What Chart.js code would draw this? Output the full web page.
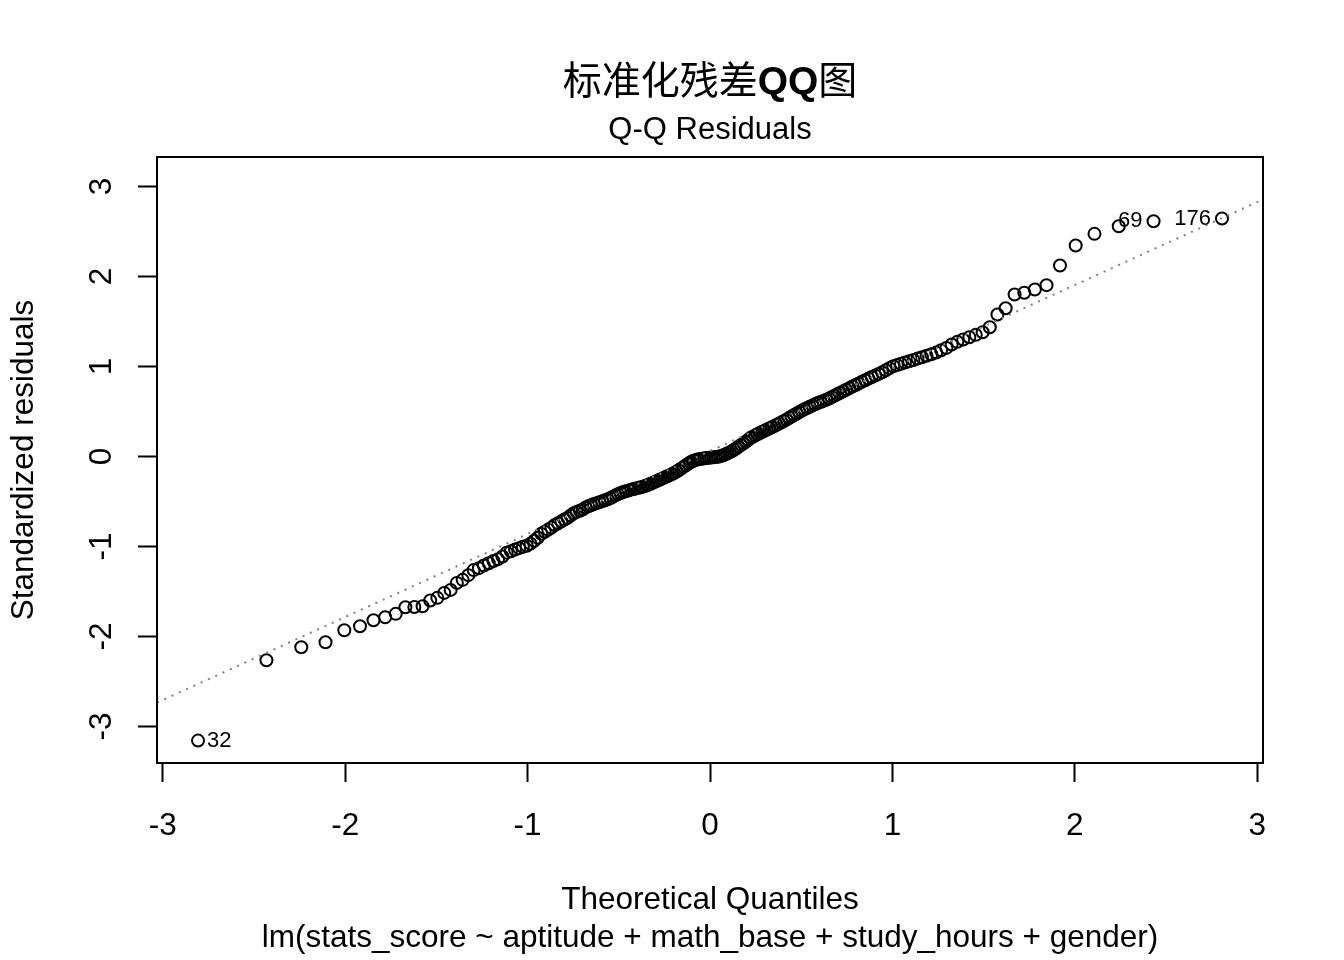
<!DOCTYPE html>
<html>
<head>
<meta charset="utf-8">
<title>标准化残差QQ图</title>
<script src="https://cdn.jsdelivr.net/npm/chart.js@4.4.1/dist/chart.umd.min.js"></script>
<style>
  html, body { margin: 0; padding: 0; background: #ffffff; }
  #qqChart { display: block; }
</style>
</head>
<body>
<canvas id="qqChart" width="1344" height="960"></canvas>
<script>
// Theoretical normal quantiles (x axis), one per observation, n = 200
const theoretical = [
  -2.807, -2.432, -2.241, -2.108, -2.005, -1.919, -1.845, -1.781, -1.723, -1.670,
  -1.621, -1.576, -1.534, -1.495, -1.457, -1.422, -1.388, -1.356, -1.325, -1.296,
  -1.267, -1.240, -1.213, -1.187, -1.162, -1.138, -1.115, -1.092, -1.069, -1.047,
  -1.026, -1.005, -0.984, -0.964, -0.944, -0.925, -0.906, -0.887, -0.869, -0.851,
  -0.833, -0.815, -0.798, -0.781, -0.764, -0.747, -0.731, -0.714, -0.698, -0.682,
  -0.667, -0.653, -0.637, -0.622, -0.606, -0.591, -0.576, -0.561, -0.546, -0.532,
  -0.517, -0.504, -0.490, -0.476, -0.461, -0.447, -0.433, -0.419, -0.406, -0.392,
  -0.379, -0.366, -0.352, -0.339, -0.325, -0.312, -0.299, -0.286, -0.273, -0.260,
  -0.247, -0.234, -0.221, -0.208, -0.196, -0.183, -0.170, -0.157, -0.145, -0.132,
  -0.119, -0.107, -0.094, -0.082, -0.069, -0.056, -0.044, -0.031, -0.019, -0.006,
  0.006, 0.019, 0.031, 0.044, 0.056, 0.069, 0.082, 0.094, 0.107, 0.119,
  0.132, 0.145, 0.157, 0.170, 0.183, 0.196, 0.208, 0.221, 0.234, 0.247,
  0.260, 0.273, 0.286, 0.299, 0.312, 0.325, 0.339, 0.352, 0.366, 0.379,
  0.392, 0.406, 0.419, 0.433, 0.447, 0.461, 0.476, 0.490, 0.504, 0.517,
  0.532, 0.546, 0.561, 0.576, 0.591, 0.606, 0.622, 0.637, 0.653, 0.667,
  0.682, 0.698, 0.714, 0.731, 0.747, 0.764, 0.781, 0.798, 0.815, 0.833,
  0.851, 0.869, 0.887, 0.906, 0.925, 0.944, 0.964, 0.984, 1.005, 1.026,
  1.047, 1.069, 1.092, 1.115, 1.138, 1.162, 1.187, 1.213, 1.240, 1.267,
  1.296, 1.325, 1.356, 1.388, 1.422, 1.457, 1.495, 1.534, 1.576, 1.621,
  1.670, 1.723, 1.781, 1.845, 1.919, 2.005, 2.108, 2.241, 2.432, 2.807
];

// Sorted standardized residuals (y axis)
const residuals = [
  -3.156, -2.263, -2.119, -2.063, -1.930, -1.885, -1.819, -1.785, -1.748, -1.674,
  -1.672, -1.663, -1.600, -1.570, -1.515, -1.482, -1.404, -1.370, -1.318, -1.262,
  -1.240, -1.210, -1.186, -1.160, -1.140, -1.110, -1.068, -1.052, -1.034, -1.018,
  -1.003, -0.992, -0.968, -0.935, -0.902, -0.858, -0.835, -0.812, -0.790, -0.760,
  -0.742, -0.720, -0.700, -0.682, -0.655, -0.630, -0.615, -0.603, -0.588, -0.566,
  -0.553, -0.541, -0.528, -0.518, -0.507, -0.497, -0.485, -0.474, -0.462, -0.447,
  -0.431, -0.418, -0.405, -0.395, -0.385, -0.376, -0.368, -0.360, -0.354, -0.348,
  -0.342, -0.334, -0.324, -0.313, -0.302, -0.290, -0.279, -0.267, -0.255, -0.243,
  -0.231, -0.219, -0.207, -0.195, -0.182, -0.167, -0.150, -0.132, -0.115, -0.098,
  -0.080, -0.064, -0.050, -0.040, -0.034, -0.028, -0.024, -0.020, -0.016, -0.013,
  -0.010, -0.008, -0.005, -0.002, 0.004, 0.012, 0.022, 0.034, 0.046, 0.058,
  0.075, 0.092, 0.110, 0.128, 0.146, 0.165, 0.184, 0.205, 0.220, 0.234,
  0.248, 0.262, 0.275, 0.287, 0.300, 0.312, 0.325, 0.338, 0.352, 0.366,
  0.380, 0.396, 0.410, 0.428, 0.445, 0.462, 0.478, 0.494, 0.510, 0.526,
  0.540, 0.552, 0.566, 0.580, 0.594, 0.606, 0.618, 0.630, 0.645, 0.660,
  0.676, 0.692, 0.708, 0.725, 0.742, 0.760, 0.778, 0.795, 0.812, 0.830,
  0.848, 0.866, 0.884, 0.900, 0.918, 0.936, 0.958, 0.982, 1.003, 1.016,
  1.030, 1.045, 1.058, 1.072, 1.088, 1.103, 1.120, 1.136, 1.155, 1.181,
  1.207, 1.244, 1.274, 1.300, 1.326, 1.352, 1.381, 1.437, 1.578, 1.648,
  1.800, 1.819, 1.856, 1.904, 2.122, 2.344, 2.474, 2.559, 2.614, 2.644
];

// Labelled observations (row names) and their rank in the sorted residuals
const idLabels = ['32', '69', '176'];
const idRanks = [0, 198, 199];
const idSides = ['right', 'left', 'left'];

// qqline through the quartiles
const qqIntercept = 0.061;
const qqSlope = 0.922;

// Axis limits (R adds 4% on each side, y has extra room on top for labels)
const xLimits = [-3.032, 3.032];
const yLimits = [-3.405, 3.328];
const tickValues = [-3, -2, -1, 0, 1, 2, 3];

const latinFont = "'Liberation Sans', Arial, sans-serif";
const cjkFont = "'Noto Sans CJK SC', 'Noto Sans CJK JP', sans-serif";

// Title: Chinese characters normal weight, "QQ" bold (as R rendered it)
const titleParts = [
  { text: '标准化残差', font: '39px ' + cjkFont },
  { text: 'QQ', font: 'bold 39px ' + latinFont },
  { text: '图', font: '39px ' + cjkFont }
];
const subTitle = 'Q-Q Residuals';

const points = theoretical.map((q, i) => ({ x: q, y: residuals[i] }));
const qqLinePoints = xLimits.map(x => ({ x: x, y: qqIntercept + qqSlope * x }));

// Titles, box and point labels are drawn here
const rPlotExtras = {
  id: 'rPlotExtras',
  afterDatasetsDraw(chart) {
    const ctx = chart.ctx;
    const xs = chart.scales.x;
    const ys = chart.scales.y;
    ctx.save();
    ctx.fillStyle = '#000000';
    ctx.font = '22px ' + latinFont;
    ctx.textBaseline = 'middle';
    idLabels.forEach((label, k) => {
      const r = idRanks[k];
      const px = xs.getPixelForValue(theoretical[r]);
      const py = ys.getPixelForValue(residuals[r]);
      if (idSides[k] === 'right') {
        ctx.textAlign = 'left';
        ctx.fillText(label, px + 9, py);
      } else {
        ctx.textAlign = 'right';
        ctx.fillText(label, px - 11, py);
      }
    });
    ctx.restore();
  },
  afterDraw(chart) {
    const ctx = chart.ctx;
    const area = chart.chartArea;
    const cx = (area.left + area.right) / 2;
    ctx.save();
    // box around the plot region
    ctx.strokeStyle = '#000000';
    ctx.lineWidth = 2;
    ctx.strokeRect(area.left, area.top, area.right - area.left, area.bottom - area.top);

    // main title
    let total = 0;
    titleParts.forEach(p => {
      ctx.font = p.font;
      p.width = ctx.measureText(p.text).width;
      total += p.width;
    });
    let x = cx - total / 2;
    ctx.fillStyle = '#000000';
    ctx.textAlign = 'left';
    ctx.textBaseline = 'alphabetic';
    titleParts.forEach(p => {
      ctx.font = p.font;
      ctx.fillText(p.text, x, 94);
      x += p.width;
    });

    // sub title above the box
    ctx.font = '31px ' + latinFont;
    ctx.textAlign = 'center';
    ctx.textBaseline = 'middle';
    ctx.fillText(subTitle, cx, 130);
    ctx.restore();
  }
};

const ctx = document.getElementById('qqChart').getContext('2d');
const qqChart = new Chart(ctx, {
  type: 'scatter',
  data: {
    datasets: [
      {
        type: 'line',
        label: 'qqline',
        data: qqLinePoints,
        borderColor: '#7f7f7f',
        borderWidth: 2,
        borderDash: [2, 6],
        pointRadius: 0,
        fill: false,
        order: 0
      },
      {
        label: 'residuals',
        data: points,
        pointStyle: 'circle',
        pointRadius: 6,
        pointHoverRadius: 6,
        borderColor: '#000000',
        borderWidth: 2,
        backgroundColor: 'rgba(0,0,0,0)',
        order: 1
      }
    ]
  },
  options: {
    responsive: false,
    animation: false,
    devicePixelRatio: 1,
    layout: {
      padding: { top: 157, right: 81, bottom: 0, left: 0 }
    },
    plugins: {
      legend: { display: false },
      tooltip: { enabled: false },
      title: { display: false },
      subtitle: { display: false }
    },
    scales: {
      x: {
        type: 'linear',
        min: xLimits[0],
        max: xLimits[1],
        afterFit(scale) { scale.height = 197; },
        afterBuildTicks(scale) { scale.ticks = tickValues.map(v => ({ value: v })); },
        border: { display: true, color: '#000000', width: 2 },
        grid: {
          drawOnChartArea: false,
          drawTicks: true,
          tickLength: 19,
          tickWidth: 2,
          tickColor: '#000000'
        },
        ticks: {
          color: '#000000',
          padding: 25,
          maxRotation: 0,
          font: { family: latinFont, size: 31.5 }
        },
        title: {
          display: true,
          text: ['Theoretical Quantiles', 'lm(stats_score ~ aptitude + math_base + study_hours + gender)'],
          color: '#000000',
          font: { family: latinFont, size: 31.5, lineHeight: 1.2 },
          padding: { top: 0, bottom: 3 }
        }
      },
      y: {
        type: 'linear',
        min: yLimits[0],
        max: yLimits[1],
        afterFit(scale) { scale.width = 157; },
        afterBuildTicks(scale) { scale.ticks = tickValues.map(v => ({ value: v })); },
        border: { display: true, color: '#000000', width: 2 },
        grid: {
          drawOnChartArea: false,
          drawTicks: true,
          tickLength: 19,
          tickWidth: 2,
          tickColor: '#000000'
        },
        ticks: {
          color: '#000000',
          padding: 22,
          minRotation: 90,
          maxRotation: 90,
          crossAlign: 'center',
          font: { family: latinFont, size: 31.5 }
        },
        title: {
          display: true,
          text: 'Standardized residuals',
          color: '#000000',
          font: { family: latinFont, size: 31.5, lineHeight: 1.2 },
          padding: { top: 5, bottom: 0 }
        }
      }
    }
  },
  plugins: [rPlotExtras]
});
</script>
</body>
</html>
